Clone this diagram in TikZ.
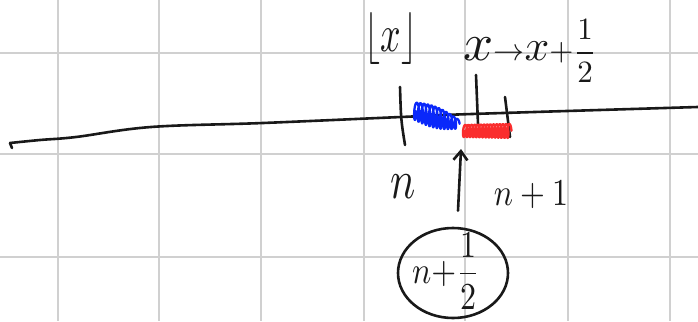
\documentclass[tikz,border=0pt]{standalone}
\usepackage{amsmath}
\usepackage{graphicx}
\usetikzlibrary{arrows.meta,shapes.geometric}
\definecolor{inkblack}{RGB}{25,25,25}
\definecolor{gridgray}{RGB}{208,208,208}
\definecolor{markblue}{RGB}{10,40,250}
\definecolor{markred}{RGB}{250,45,45}
\begin{document}
\begin{tikzpicture}[x=1pt,y=-1pt,
  ink/.style={line width=2.6pt, line cap=round, line join=round, draw=inkblack},
  gridline/.style={draw=gridgray, line width=1.6pt},
  lbl/.style={inner sep=0pt, text=inkblack},
  scribble/.style={line width=2.3pt, line cap=round, line join=round},
]
\useasboundingbox (0,0) rectangle (698,321);
\fill[white] (0,0) rectangle (698,321);

% squared paper
\foreach \gx in {58,159,261,364,465,568,670} \draw[gridline] (\gx,0) -- (\gx,321);
\foreach \gy in {53,154,257} \draw[gridline] (0,\gy) -- (698,\gy);

% the number line
\draw[ink] (12,148) -- (10,143);
\draw[ink] plot[smooth, tension=0.6] coordinates {(10,143) (40,140) (76,137) (151,127) (263,123) (401,117) (472,114) (698,107)};

% ticks
\draw[ink] (400,87) .. controls (401,120) .. (405,145);
\draw[ink] (476,75) -- (478,124);
\draw[ink] (505,97) -- (510,137);

% shaded halves of the interval
\draw[scribble, markblue] plot[domain=0:1, samples=600]
  ({414+44*\x+1.6*cos(360*12*\x)},
   {111+13*\x+(8.5+4*sin(180*\x)-4*\x)*sin(360*12*\x)});
\draw[scribble, markred] plot[domain=0:1, samples=600]
  ({463+47*\x+1.5*cos(360*15*\x)}, {131+(6+\x)*sin(360*15*\x)});

% labels
\node[lbl] (floor) at (391,39) {\scalebox{3.6}[5.2]{$\lfloor x\rfloor$}};
\node[lbl] (shift) at (530,51) {\scalebox{3.1}{$\scalebox{1.7}{$x$}{\to}\scalebox{1.4}{$x$}{+}\dfrac{1}{2}$}};
\node[lbl] (n) at (403,187) {\scalebox{4.2}[5.5]{$n$}};
\node[lbl] (n1) at (531,195) {\scalebox{3.2}[3.8]{$n+1$}};

% midpoint, circled, pointing at the line
\node[ink, ellipse, minimum width=110pt, minimum height=90pt, inner sep=0pt] (half) at (453,273) {};
\node[lbl] (halftext) at (446,271) {\scalebox{3.2}[3.8]{$n{+}\dfrac{1}{2}$}};
\coordinate (tip) at (461,149);
\draw[ink, -{Straight Barb[length=9pt,width=14pt]}] ([xshift=5pt,yshift=16pt]half.north) -- (tip);
\end{tikzpicture}
\end{document}
